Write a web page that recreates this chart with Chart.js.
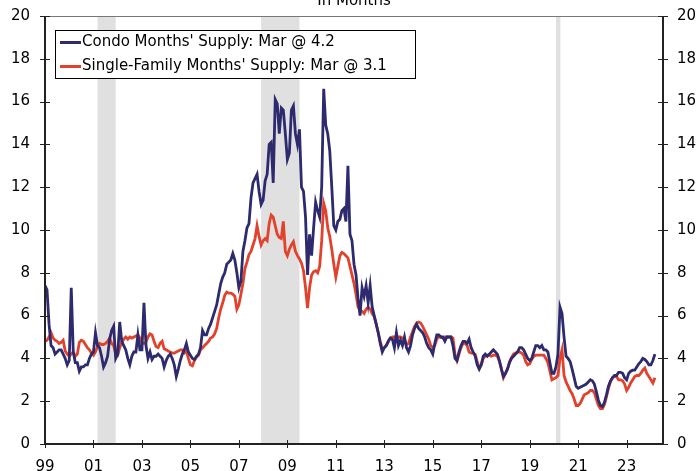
<!DOCTYPE html>
<html>
<head>
<meta charset="utf-8">
<script src="https://cdn.jsdelivr.net/npm/chart.js@4.4.1/dist/chart.umd.min.js"></script>
<style>
  html, body { margin: 0; padding: 0; background: #fff; }
  #wrap { width: 697px; height: 471px; }
</style>
</head>
<body>
<div id="wrap"><canvas id="chart" width="697" height="471"></canvas></div>
<script>
// Monthly months' supply, Jan 1999 .. Mar 2024
const START_YEAR = 1999;

const condo = [
  7.4, 7.2, 5.6, 4.6, 4.5, 4.2, 4.3, 4.4, 4.4, 4.2, 4.0, 3.7,        // 1999
  3.9, 7.3, 4.3, 3.8, 3.8, 3.4, 3.6, 3.6, 3.7, 3.7, 4.0, 4.2,        // 2000
  4.3, 5.2, 4.6, 4.5, 4.1, 3.6, 3.8, 4.1, 4.9, 5.3, 5.5, 4.0,        // 2001
  4.2, 5.7, 4.8, 4.6, 4.4, 4.0, 3.7, 4.1, 4.3, 4.3, 5.1, 4.4,        // 2002
  4.4, 6.6, 4.6, 4.0, 4.3, 3.95, 4.1, 4.1, 4.2, 4.1, 4.0, 3.6,       // 2003
  3.9, 4.1, 4.2, 4.0, 3.7, 3.15, 3.5, 3.9, 4.2, 4.4, 4.7, 4.3,       // 2004
  4.15, 4.0, 3.95, 4.1, 4.2, 4.5, 5.3, 5.1, 5.1, 5.4, 5.6, 5.9,      // 2005
  6.2, 6.5, 7.0, 7.5, 7.8, 8.0, 8.4, 8.5, 8.6, 8.9, 8.6, 8.0,        // 2006
  7.3, 7.6, 9.0, 9.5, 10.1, 10.3, 11.5, 12.2, 12.4, 12.6, 11.8, 11.2, // 2007
  11.4, 12.3, 12.6, 14.0, 14.1, 12.2, 16.1, 15.9, 14.5, 15.7, 15.6, 14.5, // 2008
  13.3, 13.6, 15.6, 15.8, 14.5, 14.0, 14.7, 12.0, 11.8, 10.6, 7.9, 9.8,   // 2009
  8.8, 10.1, 11.3, 10.9, 10.6, 12.0, 16.6, 14.9, 14.5, 13.7, 12.0, 10.2,  // 2010
  10.0, 10.4, 10.5, 10.9, 11.0, 10.4, 13.0, 9.8, 9.5, 8.4, 7.9, 6.8,      // 2011
  6.0, 7.3, 6.9, 7.4, 6.6, 7.4, 6.4, 6.0, 5.6, 5.2, 4.7, 4.3,        // 2012
  4.5, 4.6, 4.8, 4.95, 4.9, 4.5, 5.2, 4.6, 4.85, 4.6, 5.0, 4.5,      // 2013
  4.3, 4.6, 5.1, 5.4, 5.6, 5.4, 5.3, 5.2, 5.0, 4.7, 4.5, 4.4,        // 2014
  4.2, 4.7, 5.1, 5.1, 5.0, 5.0, 4.8, 5.0, 5.0, 5.0, 4.6, 4.0,        // 2015
  3.9, 4.3, 4.6, 4.8, 4.8, 4.7, 4.9, 4.5, 4.3, 4.1, 3.7, 3.5,        // 2016
  3.7, 4.1, 4.2, 4.1, 4.2, 4.3, 4.4, 4.3, 4.2, 3.9, 3.5, 3.15,       // 2017
  3.3, 3.5, 3.8, 4.0, 4.1, 4.2, 4.3, 4.5, 4.5, 4.4, 4.2, 4.0,        // 2018
  3.9, 4.0, 4.3, 4.6, 4.6, 4.5, 4.6, 4.4, 4.4, 4.3, 3.8, 3.3,        // 2019
  3.3, 3.6, 4.2, 6.4, 6.1, 5.0, 4.1, 4.0, 3.85, 3.5, 3.1, 2.7,       // 2020
  2.6, 2.65, 2.7, 2.75, 2.8, 2.9, 3.0, 2.95, 2.8, 2.45, 2.05, 1.8,   // 2021
  1.75, 1.95, 2.3, 2.7, 2.95, 3.1, 3.2, 3.2, 3.35, 3.35, 3.3, 3.1,   // 2022
  3.0, 3.3, 3.4, 3.45, 3.45, 3.6, 3.75, 3.85, 4.0, 3.95, 3.85, 3.7,  // 2023
  3.7, 3.9, 4.2                                                      // 2024
];

const singleFamily = [
  4.8, 4.85, 5.0, 5.2, 4.95, 4.85, 4.8, 4.7, 4.75, 4.85, 4.35, 4.2,  // 1999
  4.1, 4.2, 4.3, 4.1, 4.2, 4.75, 4.85, 4.8, 4.65, 4.5, 4.4, 4.25,    // 2000
  4.15, 4.3, 4.55, 4.7, 4.65, 4.65, 4.7, 4.8, 4.95, 4.7, 4.6, 4.2,   // 2001
  4.15, 4.5, 4.75, 4.9, 5.0, 4.9, 5.0, 4.95, 5.0, 5.05, 5.1, 4.95,   // 2002
  4.7, 4.7, 4.75, 5.0, 5.15, 5.1, 4.8, 4.55, 4.5, 4.7, 4.8, 4.45,    // 2003
  4.4, 4.35, 4.3, 4.25, 4.25, 4.3, 4.35, 4.4, 4.4, 4.25, 4.35, 4.0,  // 2004
  3.7, 3.65, 3.9, 4.05, 4.15, 4.4, 4.5, 4.6, 4.7, 4.8, 4.95, 5.0,    // 2005
  5.15, 5.4, 5.9, 6.3, 6.6, 6.95, 7.1, 7.05, 7.05, 7.0, 6.9, 6.3,    // 2006
  6.5, 7.0, 7.5, 8.2, 8.5, 8.85, 9.0, 9.3, 9.6, 10.2, 9.7, 9.3,      // 2007
  9.5, 9.6, 9.5, 10.3, 10.7, 10.6, 10.2, 9.8, 9.65, 9.6, 10.4, 9.0,  // 2008
  8.8, 9.1, 9.3, 9.45, 9.0, 8.8, 8.65, 8.45, 8.1, 7.3, 6.35, 7.3,    // 2009
  7.9, 8.05, 8.1, 8.0, 8.3, 9.5, 11.25, 10.9, 10.1, 9.7, 9.1, 8.4,   // 2010
  7.8, 8.3, 8.8, 8.95, 8.9, 8.8, 8.7, 8.3, 7.9, 7.5, 7.0, 6.4,       // 2011
  6.25, 6.2, 6.1, 6.3, 6.4, 6.3, 6.1, 5.95, 5.6, 5.2, 4.8, 4.45,     // 2012
  4.5, 4.6, 4.8, 4.95, 5.0, 5.0, 5.0, 5.0, 5.0, 4.95, 4.85, 4.65,    // 2013
  4.7, 5.0, 5.25, 5.5, 5.65, 5.7, 5.65, 5.5, 5.3, 5.1, 4.9, 4.6,     // 2014
  4.5, 4.6, 4.9, 5.0, 5.0, 4.95, 5.0, 5.0, 5.0, 5.0, 4.95, 4.2,      // 2015
  3.9, 4.2, 4.5, 4.7, 4.7, 4.6, 4.3, 4.25, 4.25, 4.2, 3.85, 3.55,    // 2016
  3.7, 4.0, 4.1, 4.15, 4.15, 4.1, 4.15, 4.15, 4.1, 3.85, 3.5, 3.1,   // 2017
  3.3, 3.5, 3.85, 4.05, 4.2, 4.25, 4.3, 4.3, 4.25, 4.15, 3.85, 3.7,  // 2018
  3.75, 3.95, 4.1, 4.15, 4.15, 4.15, 4.15, 4.15, 4.0, 3.8, 3.4, 3.0, // 2019
  3.05, 3.1, 3.2, 4.0, 4.4, 3.2, 2.9, 2.7, 2.5, 2.35, 2.1, 1.8,      // 2020
  1.8, 1.9, 2.1, 2.3, 2.35, 2.4, 2.5, 2.5, 2.4, 2.1, 1.8, 1.65,      // 2021
  1.65, 1.85, 2.2, 2.6, 2.9, 3.1, 3.15, 3.15, 3.0, 3.0, 2.95, 2.8,   // 2022
  2.5, 2.65, 2.85, 3.0, 3.15, 3.2, 3.2, 3.3, 3.45, 3.55, 3.3, 3.15,  // 2023
  3.0, 2.85, 3.1                                                     // 2024
];

const seriesLabels = [
  "Condo Months' Supply: Mar @ 4.2",
  "Single-Family Months' Supply: Mar @ 3.1",
];
const seriesColors = ['#2d2a6e', '#e2412b'];

const xTickYears  = [1999, 2001, 2003, 2005, 2007, 2009, 2011, 2013, 2015, 2017, 2019, 2021, 2023];
const xTickLabels = ['99', '01', '03', '05', '07', '09', '11', '13', '15', '17', '19', '21', '23'];
const yTicks = [0, 2, 4, 6, 8, 10, 12, 14, 16, 18, 20];

// recession periods, as [start, end] in fractional years
const recessions = [[2001 + 2 / 12, 2001 + 11 / 12], [2007 + 11 / 12, 2009.5], [2020 + 1 / 12, 2020 + 3.2 / 12]];

const FONT = '"DejaVu Sans", Verdana, sans-serif';
const toPoints = arr => arr.map((v, i) => ({ x: START_YEAR + i / 12, y: v }));

const decor = {
  id: 'decor',
  beforeDatasetsDraw(chart) {
    const { ctx, chartArea: a, scales: { x } } = chart;
    ctx.save();
    ctx.fillStyle = '#e0e0e0';
    recessions.forEach(([s, e]) => {
      const x0 = x.getPixelForValue(s), x1 = x.getPixelForValue(e);
      ctx.fillRect(x0, a.top, x1 - x0, a.bottom - a.top);
    });
    ctx.restore();
  },
  afterDatasetsDraw(chart) {
    const { ctx, chartArea: a, scales: { x, y } } = chart;
    ctx.save();
    // frame
    ctx.lineWidth = 1;
    ctx.strokeStyle = '#777';
    ctx.beginPath();
    ctx.moveTo(a.left, a.top + 0.5); ctx.lineTo(a.right, a.top + 0.5);
    ctx.stroke();
    ctx.strokeStyle = '#222';
    ctx.lineWidth = 2;
    ctx.beginPath();
    ctx.moveTo(a.left, a.top); ctx.lineTo(a.left, a.bottom);
    ctx.lineTo(a.right, a.bottom); ctx.lineTo(a.right, a.top);
    ctx.stroke();
    // ticks crossing the axes
    ctx.lineWidth = 1;
    ctx.beginPath();
    yTicks.forEach(v => {
      const py = Math.round(y.getPixelForValue(v)) + 0.5;
      ctx.moveTo(a.left - 5, py); ctx.lineTo(a.left + 5, py);
      ctx.moveTo(a.right - 5, py); ctx.lineTo(a.right + 5, py);
    });
    xTickYears.forEach(v => {
      const px = Math.round(x.getPixelForValue(v)) + 0.5;
      ctx.moveTo(px, a.bottom - 4); ctx.lineTo(px, a.bottom + 4);
    });
    ctx.stroke();

    // legend box
    ctx.fillStyle = '#fff';
    ctx.fillRect(55, 30, 360, 49);
    ctx.strokeStyle = '#000';
    ctx.strokeRect(55.5, 30.5, 360, 48);
    ctx.font = '15px ' + FONT;
    ctx.textBaseline = 'middle';
    ctx.textAlign = 'left';
    seriesLabels.forEach((t, i) => {
      const ly = 42.5 + i * 24;
      ctx.strokeStyle = seriesColors[i];
      ctx.lineWidth = 3;
      ctx.beginPath(); ctx.moveTo(60, ly); ctx.lineTo(81, ly); ctx.stroke();
      ctx.fillStyle = '#000';
      ctx.fillText(t, 82, ly);
    });

    // title, cut off by the top edge
    ctx.textAlign = 'center';
    ctx.textBaseline = 'alphabetic';
    ctx.fillText('In Months', (a.left + a.right) / 2, 5);
    ctx.restore();
  }
};

const tickFont = { family: FONT, size: 15 };
// fixed axis band, no extra label padding
const fitY = w => s => { s.width = w; s.paddingTop = 0; s.paddingBottom = 0; };

new Chart(document.getElementById('chart'), {
  type: 'line',
  data: {
    datasets: [
      { label: seriesLabels[0], data: toPoints(condo), borderColor: seriesColors[0], borderWidth: 2.8, pointRadius: 0, tension: 0, order: 1 },
      { label: seriesLabels[1], data: toPoints(singleFamily), borderColor: seriesColors[1], borderWidth: 2.8, pointRadius: 0, tension: 0, order: 2 },
    ]
  },
  options: {
    responsive: false,
    animation: false,
    devicePixelRatio: 1,
    layout: { padding: { top: 16, left: 0, right: 0, bottom: 0 } },
    plugins: { legend: { display: false }, tooltip: { enabled: false } },
    scales: {
      x: {
        type: 'linear', min: 1999, max: 2024.5,
        afterBuildTicks: s => { s.ticks = xTickYears.map(v => ({ value: v })); },
        afterFit: s => { s.height = 27; s.paddingLeft = 0; s.paddingRight = 0; },
        grid: { display: false, drawTicks: false },
        border: { display: false },
        ticks: {
          font: tickFont, color: '#000', padding: 14, maxRotation: 0, autoSkip: false,
          callback: v => xTickLabels[xTickYears.indexOf(v)] ?? '',
        },
      },
      y: {
        position: 'left', min: 0, max: 20,
        afterBuildTicks: s => { s.ticks = yTicks.map(v => ({ value: v })); },
        afterFit: fitY(45),
        grid: { display: false, drawTicks: false },
        border: { display: false },
        ticks: { font: tickFont, color: '#000', padding: 15 },
      },
      y2: {
        position: 'right', min: 0, max: 20,
        afterBuildTicks: s => { s.ticks = yTicks.map(v => ({ value: v })); },
        afterFit: fitY(34),
        grid: { display: false, drawTicks: false },
        border: { display: false },
        ticks: { font: tickFont, color: '#000', padding: 14 },
      },
    },
  },
  plugins: [decor],
});
</script>
</body>
</html>
